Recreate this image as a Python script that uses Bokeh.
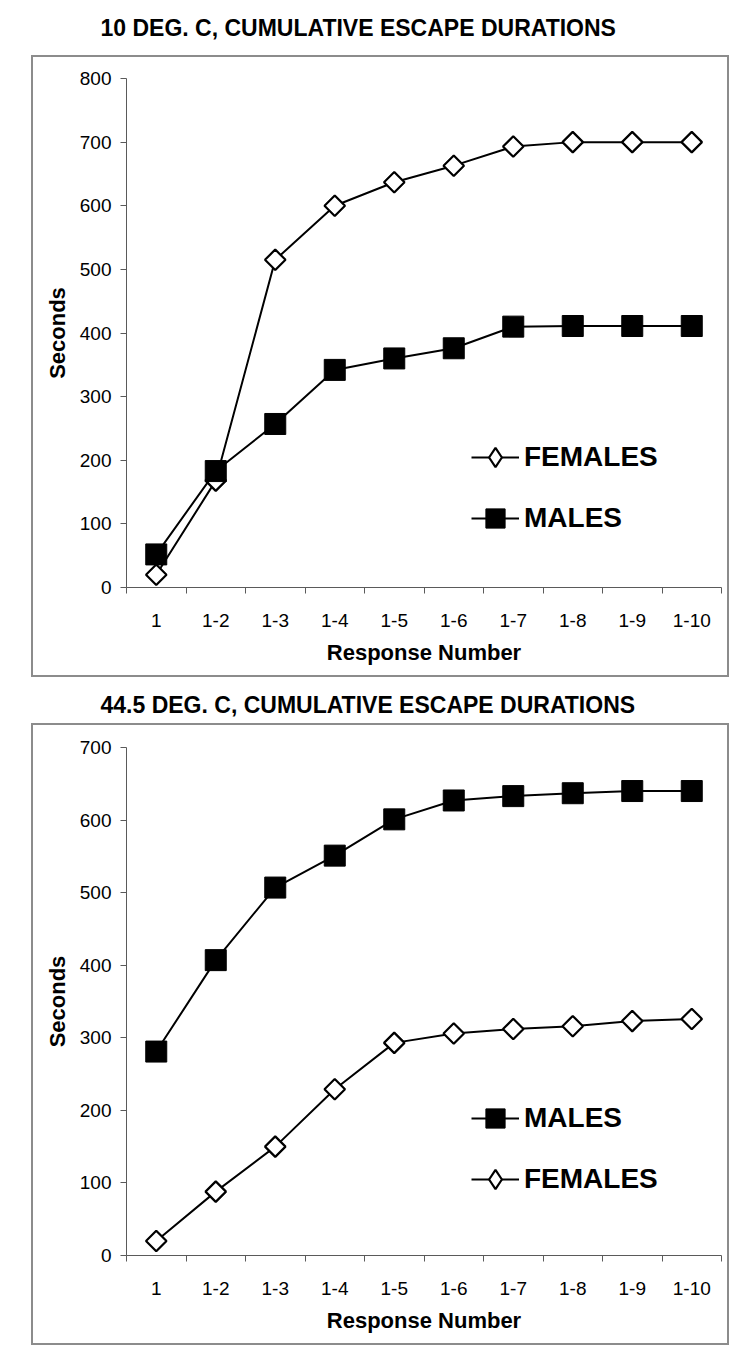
import numpy as np
from bokeh.plotting import figure
from bokeh.layouts import column, row
from bokeh.models import Range1d, FixedTicker, Legend, LegendItem, Spacer
from bokeh.embed import file_html
from bokeh.resources import INLINE

# ---------------- data ----------------
categories = ["1", "1-2", "1-3", "1-4", "1-5", "1-6", "1-7", "1-8", "1-9", "1-10"]

females_10 = [20, 168, 515, 600, 637, 663, 693, 700, 700, 700]
males_10 = [52, 183, 257, 342, 360, 376, 410, 411, 411, 411]

males_445 = [281, 407, 507, 551, 601, 627, 633, 637, 640, 640]
females_445 = [20, 88, 150, 229, 293, 306, 312, 316, 323, 326]

yticks_10 = [0, 100, 200, 300, 400, 500, 600, 700, 800]
yticks_445 = [0, 100, 200, 300, 400, 500, 600, 700]

title_10 = "10 DEG. C, CUMULATIVE ESCAPE DURATIONS"
title_445 = "44.5 DEG. C, CUMULATIVE ESCAPE DURATIONS"
x_title = "Response Number"
y_title = "Seconds"

FONT = "Liberation Sans"
AX = "#5a5a5a"
BOX = "#8c8c8c"

xs = list(range(1, len(categories) + 1))
bounds = [x - 0.5 for x in xs] + [xs[-1] + 0.5]


def title_fig(text, H):
    t = figure(width=730, height=H, output_backend="svg", toolbar_location=None,
               x_axis_location=None, y_axis_location=None, min_border=0,
               x_range=Range1d(0, 1), y_range=Range1d(0, 1))
    t.outline_line_color = None
    t.grid.visible = False
    t.border_fill_color = None
    t.background_fill_color = None
    t.title.text = text
    t.title.text_font = FONT
    t.title.text_font_size = "23px"
    t.title.text_font_style = "bold"
    t.title.text_color = "black"
    t.title.align = "left"
    t.title.offset = 100
    t.title.standoff = 0
    return t


def body_fig(H, top, bottom, ymax, yticks, fem, mal, order, leg_loc):
    p = figure(width=698, height=H, output_backend="svg", toolbar_location=None,
               x_range=Range1d(0.5, len(categories) + 0.5), y_range=Range1d(0, ymax),
               min_border_left=95, min_border_right=8,
               min_border_top=top, min_border_bottom=bottom)
    p.styles = {"outline": "2px solid " + BOX, "outline-offset": "-2px"}
    p.outline_line_color = None
    p.grid.visible = False
    p.background_fill_color = None
    p.border_fill_color = None

    xa = p.xaxis[0]
    xa.ticker = FixedTicker(ticks=xs, minor_ticks=bounds)
    xa.major_label_overrides = {x: c for x, c in zip(xs, categories)}
    xa.major_tick_line_color = None
    xa.major_tick_out = 0
    xa.major_tick_in = 0
    xa.minor_tick_line_color = AX
    xa.minor_tick_out = 6
    xa.minor_tick_in = 0
    xa.axis_line_color = AX
    xa.major_label_standoff = 20
    xa.major_label_text_font = FONT
    xa.major_label_text_font_size = "19px"
    xa.major_label_text_color = "black"
    xa.axis_label = x_title
    xa.axis_label_text_font = FONT
    xa.axis_label_text_font_size = "22px"
    xa.axis_label_text_font_style = "bold"
    xa.axis_label_text_color = "black"
    xa.axis_label_standoff = 10

    ya = p.yaxis[0]
    ya.ticker = FixedTicker(ticks=yticks, minor_ticks=[])
    ya.major_tick_out = 6
    ya.major_tick_in = 0
    ya.major_tick_line_color = AX
    ya.minor_tick_line_color = None
    ya.axis_line_color = AX
    ya.major_label_standoff = 9
    ya.major_label_text_font = FONT
    ya.major_label_text_font_size = "19px"
    ya.major_label_text_color = "black"
    ya.axis_label = y_title
    ya.axis_label_text_font = FONT
    ya.axis_label_text_font_size = "22px"
    ya.axis_label_text_font_style = "bold"
    ya.axis_label_text_color = "black"
    ya.axis_label_standoff = 7

    lf = p.line(xs, fem, line_color="black", line_width=2)
    sf = p.scatter(xs, fem, marker="square", size=14.5, angle=np.pi / 4,
                   fill_color="white", line_color="black", line_width=2.2)
    # legend-only proxy (diamond key)
    pf = p.scatter(xs, fem, marker="diamond", size=20,
                   fill_color="white", line_color="black", line_width=2.2, visible=False)
    lm = p.line(xs, mal, line_color="black", line_width=2)
    sm = p.scatter(xs, mal, marker="square", size=21,
                   fill_color="black", line_color="black", line_width=1)

    items = {"FEMALES": LegendItem(label="FEMALES", renderers=[lf, pf]),
             "MALES": LegendItem(label="MALES", renderers=[lm, sm])}
    leg = Legend(items=[items[k] for k in order], location=leg_loc,
                 padding=0, margin=0, border_line_color=None,
                 background_fill_alpha=0, glyph_width=48, glyph_height=48,
                 label_height=48, spacing=13, label_standoff=5,
                 label_text_font=FONT, label_text_font_size="28px",
                 label_text_font_style="bold", label_text_color="black")
    p.add_layout(leg, "center")
    return p


t1 = title_fig(title_10, 43)
b1 = body_fig(622, 23, 90, 800, yticks_10, females_10, males_10,
              ["FEMALES", "MALES"], (345, 45))
t2 = title_fig(title_445, 34)
b2 = body_fig(622, 24, 90, 700, yticks_445, females_445, males_445,
              ["MALES", "FEMALES"], (345, 52))

layout = column(Spacer(width=10, height=12), t1, row(Spacer(width=31, height=10), b1),
                Spacer(width=10, height=12), t2, row(Spacer(width=31, height=10), b2),
                spacing=0)
open("out.html", "w").write(file_html(layout, INLINE))
